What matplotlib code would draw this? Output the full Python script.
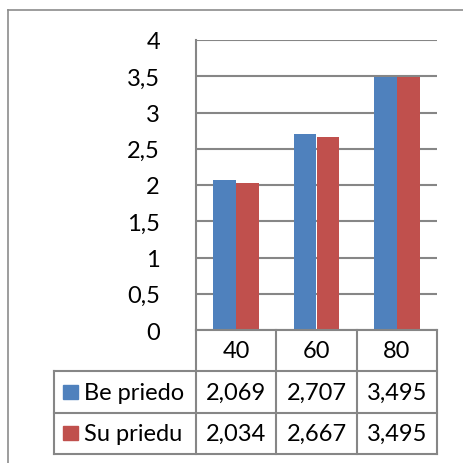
import matplotlib.pyplot as plt
from matplotlib.patches import Rectangle

categories = ['40', '60', '80']
series_names = ['Be priedo', 'Su priedu']
be_priedo = [2.069, 2.707, 3.495]
su_priedu = [2.034, 2.667, 3.495]
yticks = [0, 0.5, 1, 1.5, 2, 2.5, 3, 3.5, 4]

colours = ['#4F81BD', '#C0504D']
grid_col = '#868686'
W, H = 463, 464
plt.rcParams['font.family'] = ['Lato', 'DejaVu Sans']

fig = plt.figure(figsize=(W / 100, H / 100), dpi=100)

# outer chart border (runs off the right/bottom edge)
fig.add_artist(plt.Line2D([8 / W, 8 / W], [0, 1 - 11 / H], color='#8c8c8c', lw=1.2))
fig.add_artist(plt.Line2D([8 / W, 1], [1 - 11 / H, 1 - 11 / H], color='#8c8c8c', lw=1.2))

# plot area
px_l, px_r, px_t, px_b = 196, 437, 41, 331
ax = fig.add_axes([px_l / W, 1 - px_b / H, (px_r - px_l) / W, (px_b - px_t) / H])
x = list(range(len(categories)))
bw = 0.286
ax.bar([i - bw / 2 for i in x], be_priedo, bw, color=colours[0], zorder=3)
ax.bar([i + bw / 2 for i in x], su_priedu, bw, color=colours[1], zorder=3)
ax.set_xlim(-0.5, 2.5)
ax.set_ylim(0, 4)
ax.set_yticks(yticks)
ax.set_yticklabels([('%g' % t).replace('.', ',') for t in yticks], fontsize=17)
ax.tick_params(axis='y', length=0, pad=26)
ax.set_xticks([])
ax.grid(axis='y', color=grid_col, lw=1.5, zorder=0)
for s in ['top', 'right', 'bottom']:
    ax.spines[s].set_visible(False)
ax.spines['left'].set_color(grid_col)
ax.spines['left'].set_linewidth(1.5)

# data table below the plot
tb_l, tb_b = 54, 455
cw = (px_r - px_l) / 3
left_units = -0.5 - (px_l - tb_l) / cw
tax = fig.add_axes([tb_l / W, 1 - tb_b / H, (px_r - tb_l) / W, (tb_b - px_b) / H])
tax.set_xlim(left_units, 2.5)
tax.set_ylim(3, 0)
tax.axis('off')
kw = dict(color=grid_col, lw=1.5, clip_on=False)
# horizontal lines
tax.plot([-0.5, 2.5], [0, 0], **kw)
for yy in [1, 2, 3]:
    tax.plot([left_units, 2.5], [yy, yy], **kw)
# vertical lines
tax.plot([left_units, left_units], [1, 3], **kw)
for xx in [-0.5, 0.5, 1.5, 2.5]:
    tax.plot([xx, xx], [0, 3], **kw)

for i, c in enumerate(categories):
    tax.text(i, 0.5, c, ha='center', va='center', fontsize=17)
for r, (name, vals) in enumerate(zip(series_names, [be_priedo, su_priedu])):
    yc = r + 1.5
    sq_w = 15 / cw
    tax.add_patch(Rectangle((left_units + 9 / cw, yc - 0.17), sq_w, 0.34,
                            color=colours[r], clip_on=False))
    tax.text(left_units + 30 / cw, yc, name, ha='left', va='center', fontsize=17)
    for i, v in enumerate(vals):
        tax.text(i, yc, ('%.3f' % v).replace('.', ','), ha='center', va='center', fontsize=17)

fig.savefig('out.png', dpi=100)
